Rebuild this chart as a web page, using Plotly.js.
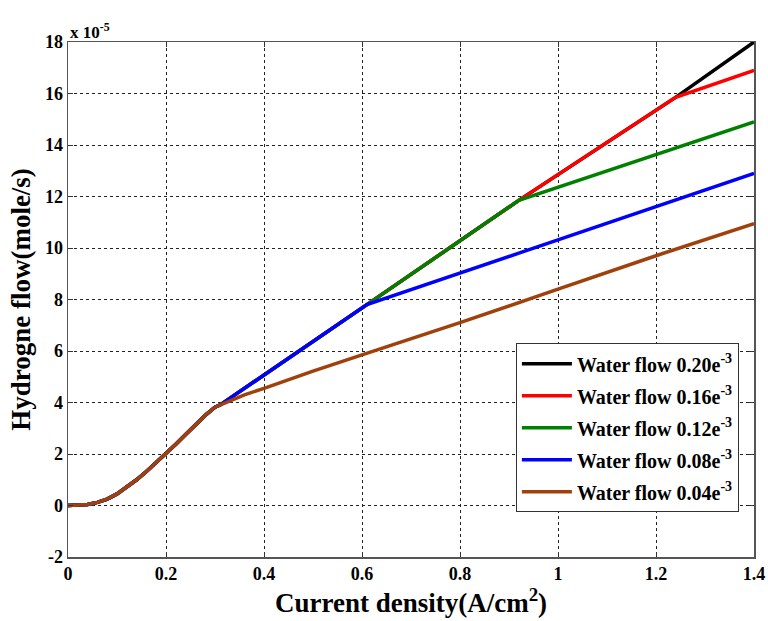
<!DOCTYPE html>
<html><head><meta charset="utf-8">
<script src="https://cdn.plot.ly/plotly-3.0.1.min.js"></script>
<style>body{margin:0;background:#fff}#c{width:768px;height:621px}</style>
</head><body><div id="c"></div>
<script>
// values in units of 1e-5 mole/s
const baseX = [0, 0.02, 0.04, 0.06, 0.08, 0.1, 0.12, 0.14, 0.16, 0.18, 0.2, 0.22, 0.24, 0.26, 0.28, 0.3, 0.31];
const baseY = [0, 0.01, 0.04, 0.12, 0.25, 0.45, 0.72, 1.0, 1.32, 1.66, 2.0, 2.38, 2.76, 3.14, 3.5, 3.82, 3.9];
const x020 = [0.61, 0.92, 1.24, 1.4];
const y020 = [7.8, 11.85, 15.85, 18.0];
const x016 = [0.61, 0.92, 1.24, 1.4];
const y016 = [7.8, 11.85, 15.85, 16.9];
const x012 = [0.61, 0.92, 1.4];
const y012 = [7.8, 11.85, 14.9];
const x008 = [0.31, 0.61, 1.0, 1.4];
const y008 = [3.9, 7.8, 10.3, 12.9];
const x004 = [0.31, 0.33, 0.36, 0.4, 0.45, 0.5, 0.6, 0.8, 1.0, 1.2, 1.4];
const y004 = [3.9, 4.08, 4.3, 4.55, 4.9, 5.22, 5.85, 7.1, 8.4, 9.7, 10.95];
const names = ["Water flow 0.20e<sup>-3</sup>", "Water flow 0.16e<sup>-3</sup>", "Water flow 0.12e<sup>-3</sup>", "Water flow 0.08e<sup>-3</sup>", "Water flow 0.04e<sup>-3</sup>"];
const colors = ["#000000", "#ff0000", "#008000", "#0000ff", "#a0400b"];
const xTicks = [0, 0.2, 0.4, 0.6, 0.8, 1, 1.2, 1.4];
const xTickText = ["0", "0.2", "0.4", "0.6", "0.8", "1", "1.2", "1.4"];
const yTicks = [-2, 0, 2, 4, 6, 8, 10, 12, 14, 16, 18];

function full(xs, ys) {
  const bx = baseX.slice(), by = baseY.slice();
  if (xs[0] > 0.31) { bx.push(0.61); by.push(7.8); }
  return {x: bx.concat(xs.slice(1)), y: by.concat(ys.slice(1))};
}
const sets = [[x020,y020],[x016,y016],[x012,y012],[x008,y008],[x004,y004]];
const traces = sets.map((s,i)=>{
  const f = full(s[0], s[1]);
  return {x: f.x, y: f.y, type:'scatter', mode:'lines', name: '<b>' + names[i] + '</b>', legendgroup:'g'+i,
          line:{color: colors[i], width:3.5}};
});
const fam = '"Liberation Serif", "Times New Roman", serif';
const layout = {
  width:768, height:621,
  margin:{l:68, r:14, t:42, b:64},
  paper_bgcolor:'#fff', plot_bgcolor:'#fff',
  showlegend:true,
  legend:{x:0.978, xanchor:'right', y:0.415, yanchor:'top', bgcolor:'#fff', bordercolor:'#333', borderwidth:1,
          font:{family:fam, size:20, color:'#000'}, tracegroupgap:3, itemwidth:50},
  xaxis:{range:[0,1.4], tickvals:xTicks, ticktext:xTickText.map(t=>'<b>'+t+'</b>'), showgrid:true, gridcolor:'#222', griddash:'3px,3px', gridwidth:1,
         zeroline:false, showline:true, linecolor:'#555', linewidth:1.5, mirror:'ticks', ticks:'inside', ticklen:5, tickcolor:'#333',
         tickfont:{family:fam, size:18, color:'#000'},
         title:{text:'<b>Current density(A/cm<sup>2</sup>)</b>', font:{family:fam, size:27, color:'#000'}, standoff:2}},
  yaxis:{range:[-2,18], tickvals:yTicks, ticktext:yTicks.map(t=>'<b>'+t+'</b>'), showgrid:true, gridcolor:'#222', griddash:'3px,3px', gridwidth:1,
         zeroline:false, showline:true, linecolor:'#555', linewidth:1.5, mirror:'ticks', ticks:'inside', ticklen:5, tickcolor:'#333',
         tickfont:{family:fam, size:18, color:'#000'},
         title:{text:'<b>Hydrogne flow(mole/s)</b>', font:{family:fam, size:27, color:'#000'}, standoff:6}},
  annotations:[{xref:'paper', yref:'paper', x:0, y:1, xanchor:'left', yanchor:'bottom', showarrow:false,
    text:'<b>x 10<sup>-5</sup></b>', font:{family:fam, size:17, color:'#000'}, yshift:-2}]
};
Plotly.newPlot('c', traces, layout, {displayModeBar:false, staticPlot:true});
</script></body></html>
